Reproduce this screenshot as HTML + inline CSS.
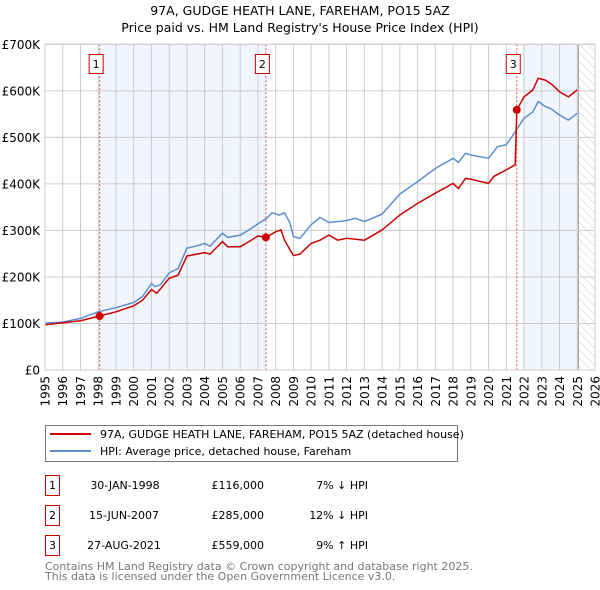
<!DOCTYPE html>
<html><head><meta charset="utf-8"><style>
body{margin:0;background:#fff;font-family:"DejaVu Sans","Liberation Sans",sans-serif;}
svg{display:block}
text{font-family:"DejaVu Sans","Liberation Sans",sans-serif;}
</style></head><body>
<svg id="chart" width="600" height="590" viewBox="0 0 600 590">
<defs><pattern id="hatch" width="6" height="6" patternUnits="userSpaceOnUse" patternTransform="rotate(-45)"><line x1="0" y1="0" x2="0" y2="6" stroke="#ccc" stroke-width="1"/></pattern></defs>
<text x="300" y="15" text-anchor="middle" font-size="12.5">97A, GUDGE HEATH LANE, FAREHAM, PO15 5AZ</text>
<text x="300" y="32" text-anchor="middle" font-size="12.5">Price paid vs. HM Land Registry's House Price Index (HPI)</text>
<g id="plot"></g>
<g>
<rect x="45.5" y="425.5" width="412" height="36" fill="#fff" stroke="#777"/>
<line x1="50" y1="434" x2="91" y2="434" stroke="#cc0000" stroke-width="2"/>
<text x="100" y="438" font-size="11">97A, GUDGE HEATH LANE, FAREHAM, PO15 5AZ (detached house)</text>
<line x1="50" y1="451" x2="91" y2="451" stroke="#5b8fd0" stroke-width="2"/>
<text x="100" y="455" font-size="11">HPI: Average price, detached house, Fareham</text>
</g>
<g font-size="11">
<g><rect x="45.5" y="475.5" width="14" height="20" fill="#fff" stroke="#cc0000"/><text x="52.5" y="489" text-anchor="middle">1</text><text x="125" y="489" text-anchor="middle">30-JAN-1998</text><text x="264" y="489" text-anchor="end">£116,000</text><text x="368" y="489" text-anchor="end">7% ↓ HPI</text></g>
<g><rect x="45.5" y="505.5" width="14" height="20" fill="#fff" stroke="#cc0000"/><text x="52.5" y="519" text-anchor="middle">2</text><text x="124" y="519" text-anchor="middle">15-JUN-2007</text><text x="264" y="519" text-anchor="end">£285,000</text><text x="368" y="519" text-anchor="end">12% ↓ HPI</text></g>
<g><rect x="45.5" y="535.5" width="14" height="20" fill="#fff" stroke="#cc0000"/><text x="52.5" y="549" text-anchor="middle">3</text><text x="124" y="549" text-anchor="middle">27-AUG-2021</text><text x="264" y="549" text-anchor="end">£559,000</text><text x="368" y="549" text-anchor="end">9% ↑ HPI</text></g>
</g>
<text x="45" y="570" font-size="11" fill="#777">Contains HM Land Registry data © Crown copyright and database right 2025.</text>
<text x="45" y="580" font-size="11" fill="#777">This data is licensed under the Open Government Licence v3.0.</text>
</svg>
<script>
const hpiYears=[1995,1996,1997,1998,1999,2000,2000.5,2001,2001.2,2001.5,2002,2002.5,2003,2003.5,2004,2004.3,2005,2005.3,2006,2006.5,2007,2007.5,2007.8,2008.2,2008.5,2008.8,2009,2009.37,2010,2010.5,2011,2012,2012.5,2013,2014,2015,2016,2017,2018,2018.3,2018.7,2019,2020,2020.5,2021,2021.5,2022,2022.5,2022.8,2023.2,2023.5,2024,2024.5,2025];
const hpiValues=[101,103,111,125,134,145,158,186,179,183,209,218,262,266,272,266,294,285,290,301,314,326,338,333,338,317,287,283,312,328,317,321,326,319,335,378,405,433,455,446,466,462,455,480,484,512,541,555,577,566,562,548,537,552];
const priceYears=[1995,1997,1998.08,1999,2000,2000.5,2001,2001.3,2002,2002.5,2003,2004,2004.3,2005,2005.3,2006,2006.5,2007,2007.45,2008,2008.3,2008.5,2009,2009.37,2010,2010.5,2011,2011.5,2012,2013,2014,2015,2016,2017,2018,2018.3,2018.7,2019,2020,2020.3,2021,2021.5,2021.59,2022,2022.5,2022.8,2023.2,2023.6,2024,2024.5,2025];
const priceValues=[97,106,116,125,138,150,173,165,197,204,245,252,249,276,265,265,276,288,285,297,301,279,246,249,272,279,290,279,283,279,301,333,358,380,401,390,412,410,401,416,430,441,559,587,602,627,623,613,598,587,602];
const saleYears=[1998.08,2007.45,2021.59];
const saleValues=[116,285,559];
const saleLabels=["1","2","3"];
const yTicks=[0,100,200,300,400,500,600,700];
const yTickLabels=["£0","£100K","£200K","£300K","£400K","£500K","£600K","£700K"];
const xTicks=[1995,1996,1997,1998,1999,2000,2001,2002,2003,2004,2005,2006,2007,2008,2009,2010,2011,2012,2013,2014,2015,2016,2017,2018,2019,2020,2021,2022,2023,2024,2025,2026];

const X0=45,X1=595,Y0=370,Y1=44.3;
const xs=y=>X0+(y-1995)/(2026-1995)*(X1-X0);
const ys=v=>Y0-v/700*(Y0-Y1);
const NS="http://www.w3.org/2000/svg";
const g=document.getElementById('plot');
function mk(t,a,p){const e=document.createElementNS(NS,t);for(const k in a)e.setAttribute(k,a[k]);(p||g).appendChild(e);return e;}
let bg=mk('rect',{x:X0,y:Y1,width:X1-X0,height:Y0-Y1,fill:'#fff'});


let s1=mk('rect',{x:xs(saleYears[0]),y:Y1,width:xs(saleYears[1])-xs(saleYears[0]),height:Y0-Y1,fill:'#eef3fc',opacity:0.8});


let s2=mk('rect',{x:xs(2021.93),y:Y1,width:xs(2025.06)-xs(2021.93),height:Y0-Y1,fill:'#eef3fc',opacity:0.8});


let ht=mk('rect',{x:xs(2025.06),y:Y1,width:X1-xs(2025.06),height:Y0-Y1,fill:'url(#hatch)'});


mk('line',{x1:xs(2025.06),x2:xs(2025.06),y1:Y1,y2:Y0,stroke:'#999','stroke-width':1});
yTicks.forEach((v,i)=>{
 let l=mk('line',{x1:X0,x2:X1,y1:ys(v),y2:ys(v),stroke:'#ccc','stroke-width':1});
 
 
 let t=mk('text',{x:40,y:ys(v)+4.5,'text-anchor':'end','font-size':12});
 t.textContent=yTickLabels[i];
 
 
});
xTicks.forEach(yr=>{
 let l=mk('line',{x1:xs(yr),x2:xs(yr),y1:Y1,y2:Y0,stroke:'#ccc','stroke-width':1});
 
 
 const tx=xs(yr)+4.5, ty=376;
 let t=mk('text',{x:tx,y:ty,'text-anchor':'end','font-size':12,transform:'rotate(-90 '+tx+' '+ty+')'});
 t.textContent=yr;
 
 
});
saleYears.forEach((yr,i)=>{
 let l=mk('line',{x1:xs(yr),x2:xs(yr),y1:Y1,y2:Y0,stroke:'#e05050','stroke-width':1,'stroke-dasharray':'2,2'});
 
 
});
function path(xsA,vs){return xsA.map((y,i)=>(i?'L':'M')+xs(y).toFixed(1)+','+ys(vs[i]).toFixed(1)).join('');}
let hp=mk('path',{d:path(hpiYears,hpiValues),fill:'none',stroke:'#5b8fd0','stroke-width':1.5});


let pp=mk('path',{d:path(priceYears,priceValues),fill:'none',stroke:'#cc0000','stroke-width':1.5});


mk('rect',{x:X0,y:Y1,width:X1-X0,height:Y0-Y1,fill:'none',stroke:'#ccc'});
saleYears.forEach((yr,i)=>{
 let c=mk('circle',{cx:xs(yr),cy:ys(saleValues[i]),r:4,fill:'#cc0000'});
 
 
 let b=mk('rect',{x:xs(yr)-10.5,y:54.5,width:14,height:19,fill:'#fff',stroke:'#cc0000'});
 
 
 let t=mk('text',{x:xs(yr)-3.5,y:68,'text-anchor':'middle','font-size':11});
 t.textContent=saleLabels[i];
 
 
});
</script>
</body></html>
